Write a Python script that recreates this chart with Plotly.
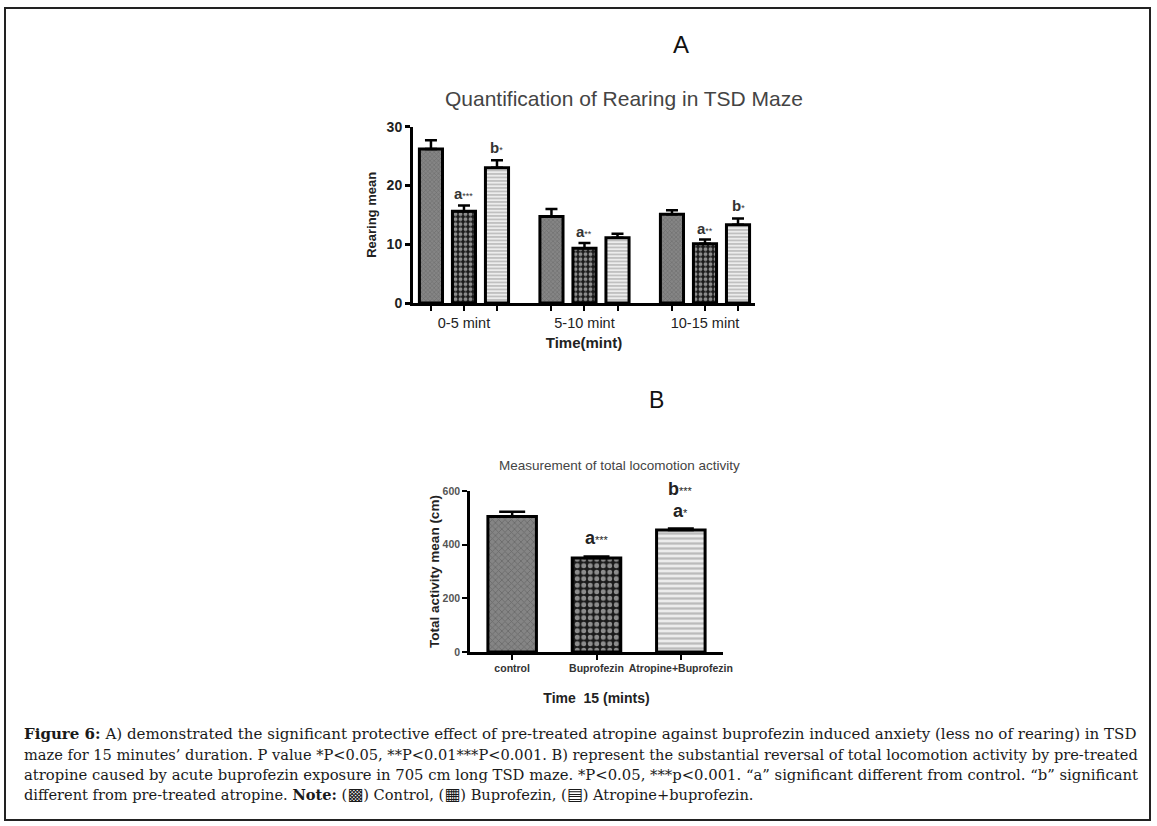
import plotly.graph_objects as go

# ---------------- data ----------------
groups = ["0-5 mint", "5-10 mint", "10-15 mint"]
rear_control = [26.2, 14.7, 15.1]
rear_control_err = [1.5, 1.3, 0.7]
rear_bup = [15.6, 9.3, 10.1]
rear_bup_err = [1.0, 0.9, 0.7]
rear_atr = [23.0, 11.1, 13.3]
rear_atr_err = [1.3, 0.7, 1.1]
rear_bup_sig = ["a***", "a**", "a**"]
rear_atr_sig = ["b*", "", "b*"]

loco_cats = ["control", "Buprofezin", "Atropine+Buprofezin"]
loco_mean = [505, 350, 455]
loco_err = [18, 6, 5]
loco_sig = ["", "a***", "a*"]
loco_sig2 = ["", "", "b***"]

caption_lines = [
    "<b>Figure 6:</b> A) demonstrated the significant protective effect of pre-treated atropine against buprofezin induced anxiety (less no of rearing) in TSD",
    "maze for 15 minutes’ duration. P value *P&lt;0.05, **P&lt;0.01***P&lt;0.001. B) represent the substantial reversal of total locomotion activity by pre-treated",
    "atropine caused by acute buprofezin exposure in 705 cm long TSD maze. *P&lt;0.05, ***p&lt;0.001. “a” significant different from control. “b” significant",
    "different from pre-treated atropine. <b>Note:</b> (<span style='font-size:17px'>▩</span>) Control, (<span style='font-size:17px'>▦</span>) Buprofezin, (<span style='font-size:17px'>▤</span>) Atropine+buprofezin.",
]
caption_sizes = [15.05, 14.6, 14.8, 14.6]

# ---------------- layout helpers ----------------
W, H = 1157, 826
def px(x):
    return x / W
def py(y):
    return 1 - y / H

SANS = "Liberation Sans, Arial, sans-serif"
SERIF = "DejaVu Serif, serif"

pat_control = dict(shape="x", fgcolor="#505050", bgcolor="#858585", size=3, solidity=0.35)
pat_bup = dict(shape=".", fgcolor="#ffffff", bgcolor="#1a1a1a", size=5, solidity=0.45)
pat_atr = dict(shape="-", fgcolor="#8a8a8a", bgcolor="#ececec", size=3.5, solidity=0.45)

fig = go.Figure()

# -------- Panel A --------
xs = list(range(len(groups)))
slot = 0.274
series_A = [
    (rear_control, rear_control_err, pat_control),
    (rear_bup, rear_bup_err, pat_bup),
    (rear_atr, rear_atr_err, pat_atr),
]
for vals, errs, pat in series_A:
    fig.add_trace(go.Bar(
        x=xs, y=vals, xaxis="x", yaxis="y",
        marker=dict(color=pat["bgcolor"], pattern=pat, line=dict(color="black", width=3)),
        error_y=dict(type="data", array=errs, arrayminus=[0] * len(errs), symmetric=False,
                     color="black", thickness=2.5, width=6),
        showlegend=False, hoverinfo="skip",
    ))

tickvals_A, ticktext_A = [], []
for g, name in zip(xs, groups):
    for k in (-1, 0, 1):
        tickvals_A.append(g + k * slot)
        ticktext_A.append(name if k == 0 else "")

star_A = "<span style='font-size:9px'>%s</span>"
for g in xs:
    if rear_bup_sig[g]:
        s = rear_bup_sig[g]
        fig.add_annotation(x=g, y=rear_bup[g] + rear_bup_err[g], xref="x", yref="y",
                           text="<b>" + s[0] + "</b>" + star_A % s[1:],
                           showarrow=False, yanchor="bottom", yshift=1,
                           font=dict(family=SANS, size=15, color="#333"))
    if rear_atr_sig[g]:
        s = rear_atr_sig[g]
        fig.add_annotation(x=g + slot, y=rear_atr[g] + rear_atr_err[g], xref="x", yref="y",
                           text="<b>" + s[0] + "</b>" + star_A % s[1:],
                           showarrow=False, yanchor="bottom", yshift=2,
                           font=dict(family=SANS, size=15, color="#333"))

# -------- Panel B --------
pats_B = [pat_control, pat_bup, pat_atr]
for i, cat in enumerate(loco_cats):
    fig.add_trace(go.Bar(
        x=[cat], y=[loco_mean[i]], xaxis="x2", yaxis="y2",
        marker=dict(color=pats_B[i]["bgcolor"],
                    pattern=dict(pats_B[i], size=pats_B[i]["size"] + 1.5),
                    line=dict(color="black", width=3)),
        error_y=dict(type="data", array=[loco_err[i]], arrayminus=[0], symmetric=False,
                     color="black", thickness=2.5, width=13),
        showlegend=False, hoverinfo="skip",
    ))
    top = loco_mean[i] + loco_err[i]
    star_B = "<span style='font-size:11px'>%s</span>"
    if loco_sig[i]:
        fig.add_annotation(x=cat, y=top, xref="x2", yref="y2",
                           text="<b>a</b>" + star_B % loco_sig[i][1:],
                           showarrow=False, yanchor="bottom", yshift=6,
                           font=dict(family=SANS, size=18, color="#222"))
    if loco_sig2[i]:
        fig.add_annotation(x=cat, y=top, xref="x2", yref="y2",
                           text="<b>b</b>" + star_B % loco_sig2[i][1:],
                           showarrow=False, yanchor="bottom", yshift=28,
                           font=dict(family=SANS, size=18, color="#222"))

# -------- axes --------
fig.update_layout(
    width=W, height=H, margin=dict(l=0, r=0, t=0, b=0, autoexpand=False),
    paper_bgcolor="white", plot_bgcolor="white",
    barmode="group", bargap=0.178, bargroupgap=0.3,
    xaxis=dict(domain=[px(413), px(755)], range=[-0.423, 2.415],
               tickvals=tickvals_A, ticktext=ticktext_A, tickangle=0,
               showline=True, linewidth=3, linecolor="black",
               ticks="outside", ticklen=5, tickwidth=2, tickcolor="black",
               showgrid=False, zeroline=False,
               tickfont=dict(family=SANS, size=14.5, color="#222"),
               title=dict(text="<b>Time(mint)</b>", font=dict(family=SANS, size=15, color="#222"), standoff=8)),
    yaxis=dict(domain=[py(303), py(126.7)], range=[0, 30], tickvals=[0, 10, 20, 30],
               showline=True, linewidth=3, linecolor="black",
               ticks="outside", ticklen=5, tickwidth=2.5, tickcolor="black",
               showgrid=False, zeroline=False,
               tickfont=dict(family=SANS, size=14, color="#222", weight="bold"),
               title=dict(text="<b>Rearing mean</b>", font=dict(family=SANS, size=13, color="#222"), standoff=8)),
    xaxis2=dict(domain=[px(470), px(723)], range=[-0.5, 2.5], type="category",
                anchor="y2", tickangle=0,
                showline=True, linewidth=2.5, linecolor="black",
                ticks="outside", ticklen=5, tickwidth=2, tickcolor="black",
                showgrid=False, zeroline=False,
                tickfont=dict(family=SANS, size=10.5, color="#333", weight="bold"),
                title=dict(text="<b>Time  15 (mints)</b>", font=dict(family=SANS, size=14, color="#222"), standoff=20)),
    yaxis2=dict(domain=[py(652), py(491)], range=[0, 600], tickvals=[0, 200, 400, 600],
                anchor="x2",
                showline=True, linewidth=2.5, linecolor="black",
                ticks="outside", ticklen=5, tickwidth=2, tickcolor="black",
                showgrid=False, zeroline=False,
                tickfont=dict(family=SANS, size=10.5, color="#555", weight="bold"),
                title=dict(text="<b>Total activity mean (cm)</b>", font=dict(family=SANS, size=13.5, color="#222"), standoff=0)),
)

# titles / panel letters
fig.add_annotation(x=px(681), y=py(44), xref="paper", yref="paper", text="A", showarrow=False,
                   xanchor="center", yanchor="middle",
                   font=dict(family=SANS, size=24, color="#111"))
fig.add_annotation(x=px(656), y=py(400), xref="paper", yref="paper", text="B", showarrow=False,
                   xanchor="center", yanchor="middle",
                   font=dict(family=SANS, size=23, color="#111"))
fig.add_annotation(x=px(624), y=py(98), xref="paper", yref="paper",
                   text="Quantification of Rearing in TSD Maze", showarrow=False,
                   xanchor="center", yanchor="middle",
                   font=dict(family=SANS, size=21, color="#444"))
fig.add_annotation(x=px(619), y=py(465), xref="paper", yref="paper",
                   text="Measurement of total locomotion activity", showarrow=False,
                   xanchor="center", yanchor="middle",
                   font=dict(family=SANS, size=13.5, color="#444"))

# caption
cap_y = [734, 754, 774, 794]
for line, yy, fs in zip(caption_lines, cap_y, caption_sizes):
    fig.add_annotation(x=px(22), y=py(yy), xref="paper", yref="paper", text=line,
                       showarrow=False, xanchor="left", yanchor="middle",
                       font=dict(family=SERIF, size=fs, color="#1a1a1a"))

# frame
fig.add_shape(type="rect", xref="paper", yref="paper", x0=px(5), x1=px(1150), y0=py(820), y1=py(8),
              line=dict(color="#222", width=2))

fig.write_html("out.html", config={"displayModeBar": False},
               post_script="document.body.style.margin='0';document.body.style.overflow='hidden';")
